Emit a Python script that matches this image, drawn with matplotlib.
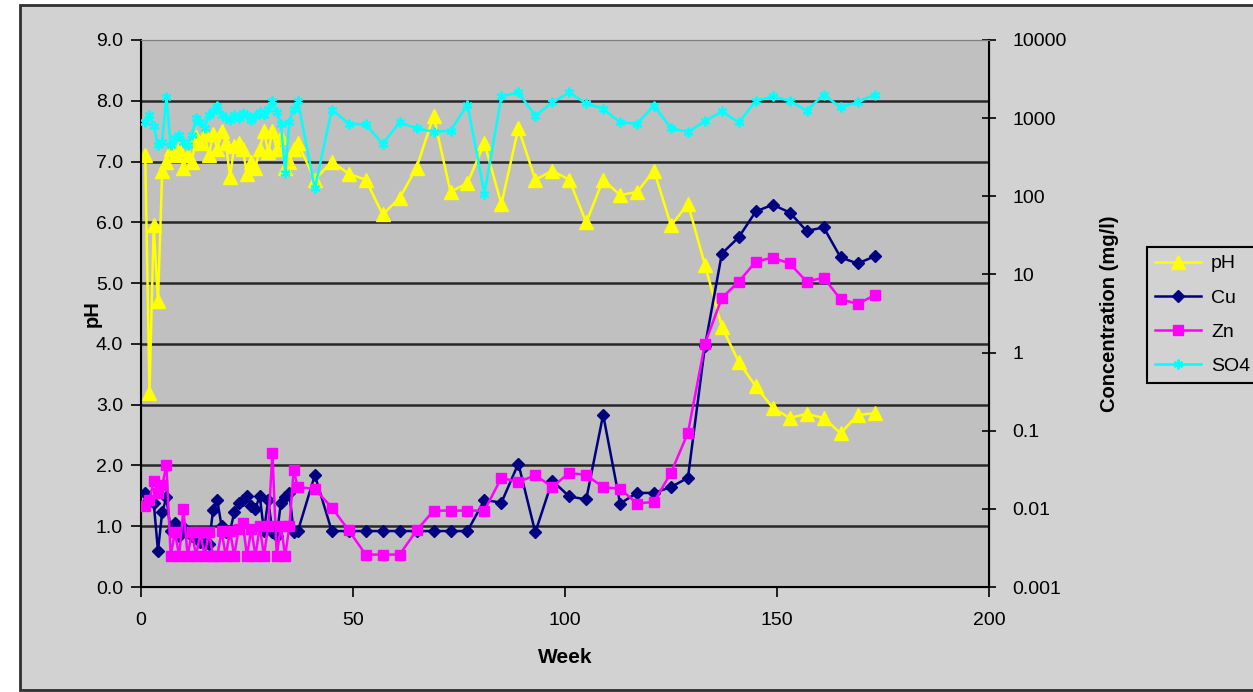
import matplotlib
matplotlib.use("Agg")
import matplotlib.pyplot as plt
from matplotlib.patches import Rectangle
from matplotlib.ticker import FixedLocator, FixedFormatter, NullLocator

plt.rcParams['font.family'] = ['Liberation Sans', 'DejaVu Sans']

# ---------------- data ----------------
weeks_early = list(range(1, 38))
weeks_late = list(range(41, 174, 4))
weeks = weeks_early + weeks_late

ph_early = [7.1, 3.2, 5.95, 4.7, 6.85, 7.0, 7.2, 7.1, 7.2, 6.9,
            7.1, 7.0, 7.4, 7.3, 7.45, 7.1, 7.45, 7.2, 7.5, 7.3,
            6.75, 7.25, 7.3, 7.2, 6.8, 7.0, 6.9, 7.2, 7.5, 7.15,
            7.5, 7.2, 7.4, 6.9, 7.0, 7.2, 7.3]
ph_late = [6.7, 7.0, 6.8, 6.7, 6.13, 6.4, 6.9, 7.75, 6.5, 6.65,
           7.3, 6.3, 7.55, 6.7, 6.85, 6.7, 6.0, 6.7, 6.45, 6.5,
           6.85, 5.95, 6.3, 5.3, 4.28, 3.7, 3.3, 2.95, 2.78, 2.85,
           2.78, 2.53, 2.83, 2.86]

cu_early = [0.016, 0.013, 0.012, 0.0029, 0.009, 0.014, 0.0052, 0.0065, 0.0045, 0.0058,
            0.005, 0.0045, 0.0042, 0.0038, 0.0036, 0.0035, 0.0096, 0.0128, 0.006, 0.005,
            0.0052, 0.009, 0.012, 0.013, 0.0147, 0.011, 0.01, 0.0147, 0.0052, 0.013,
            0.005, 0.0045, 0.012, 0.014, 0.016, 0.005, 0.0052]
cu_late = [0.027, 0.0052, 0.0052, 0.0052, 0.0052, 0.0052, 0.0052, 0.0052, 0.0052, 0.0052,
           0.013, 0.012, 0.038, 0.005, 0.023, 0.0144, 0.0132, 0.16, 0.0117, 0.016,
           0.016, 0.019, 0.025, 1.2, 18.5, 30, 64, 78, 62, 36,
           40, 16.5, 13.8, 17]

zn_early = [0.011, 0.013, 0.023, 0.016, 0.020, 0.036, 0.0025, 0.005, 0.0025, 0.010,
            0.0025, 0.005, 0.0025, 0.005, 0.0025, 0.005, 0.0025, 0.0025, 0.0052, 0.0025,
            0.0052, 0.0025, 0.0055, 0.0065, 0.0025, 0.0055, 0.0025, 0.006, 0.0025, 0.006,
            0.052, 0.0025, 0.006, 0.0025, 0.006, 0.031, 0.019]
zn_late = [0.018, 0.0104, 0.0053, 0.0026, 0.0026, 0.0026, 0.0053, 0.0095, 0.0095, 0.0095,
           0.0095, 0.025, 0.022, 0.027, 0.019, 0.029, 0.027, 0.019, 0.018, 0.0117,
           0.0123, 0.029, 0.094, 1.3, 5.0, 8.1, 14.6, 16.4, 13.8, 8.1,
           9.1, 4.8, 4.2, 5.4]

so4_early = [900, 1100, 800, 450, 500, 1850, 450, 550, 600, 500,
             450, 600, 1000, 900, 750, 1100, 1250, 1450, 1100, 1000,
             950, 1100, 1000, 1150, 1100, 950, 1050, 1200, 1100, 1300,
             1650, 1200, 850, 200, 900, 1300, 1650]
so4_late = [126, 1290, 850, 830, 470, 880, 740, 670, 690, 1490,
            108, 1900, 2130, 1070, 1590, 2130, 1540, 1320, 880, 850,
            1450, 740, 670, 910, 1220, 880, 1660, 1900, 1660, 1250,
            2000, 1370, 1600, 2000]

ph = ph_early + ph_late
cu = cu_early + cu_late
zn = zn_early + zn_late
so4 = so4_early + so4_late

ph_ticks = [0, 1, 2, 3, 4, 5, 6, 7, 8, 9]
conc_ticks = [0.001, 0.01, 0.1, 1, 10, 100, 1000, 10000]
conc_labels = ['0.001', '0.01', '0.1', '1', '10', '100', '1000', '10000']
week_ticks = [0, 50, 100, 150, 200]

# ---------------- figure ----------------
W, H = 1253, 692
fig = plt.figure(figsize=(W / 100, H / 100), dpi=100)
fig.patch.set_facecolor('white')
# chart area (drawn behind axes)
bg = Rectangle((20 / W, 1 - 690 / H), 1.2, (690 - 5) / H,
               transform=fig.transFigure, facecolor='#D2D2D2',
               edgecolor='#303030', linewidth=2, zorder=-10)
fig.add_artist(bg)

ax = fig.add_axes([141 / W, 1 - 587 / H, (989 - 141) / W, (587 - 40) / H])
ax.set_facecolor('#C0C0C0')
ax.set_xlim(0, 200)
ax.set_ylim(0, 9)
ax.set_yticks(ph_ticks)
ax.set_yticklabels([f'{v:.1f}' for v in ph_ticks])
ax.set_xticks(week_ticks)
for y in range(1, 9):
    ax.axhline(y, color='#282828', lw=1.8, zorder=0.5)
ax.tick_params(axis='both', direction='out', length=7, width=1.2,
               labelsize=14, color='black')
ax.tick_params(axis='y', pad=6)
ax.tick_params(axis='x', pad=11)
ax.set_xlabel('Week', fontsize=15, fontweight='bold', labelpad=14)
ax.set_ylabel('pH', fontsize=14.5, fontweight='bold', labelpad=-4)
for s in ['left', 'bottom']:
    ax.spines[s].set_color('black')
    ax.spines[s].set_linewidth(1.5)
ax.spines['top'].set_color('#808080')
ax.spines['right'].set_color('black')

l_ph, = ax.plot(weeks, ph, color='#FFFF00', lw=1.8, marker='^', ms=9.5,
                mec='#FFFF00', mfc='#FFFF00', label='pH', zorder=3)

ax2 = ax.twinx()
ax2.set_yscale('log')
ax2.set_ylim(0.001, 10000)
ax2.yaxis.set_major_locator(FixedLocator(conc_ticks))
ax2.yaxis.set_major_formatter(FixedFormatter(conc_labels))
ax2.yaxis.set_minor_locator(NullLocator())
ax2.tick_params(axis='y', direction='inout', length=10, width=1.2,
                labelsize=14, pad=12)
ax2.set_ylabel('Concentration (mg/l)', fontsize=14.5, fontweight='bold', labelpad=24)
ax2.spines['right'].set_linewidth(1.5)
ax2.spines['top'].set_color('#808080')

l_cu, = ax2.plot(weeks, cu, color='#000080', lw=1.8, marker='D', ms=6.5,
                 label='Cu', zorder=3)
l_zn, = ax2.plot(weeks, zn, color='#FF00FF', lw=1.8, marker='s', ms=7.5,
                 label='Zn', zorder=4)
l_so4, = ax2.plot(weeks, so4, color='#00FFFF', lw=1.8, marker=(6, 2, 0), ms=7,
                  mew=1.5, label='SO4', zorder=5)

leg = fig.legend(handles=[l_ph, l_cu, l_zn, l_so4], loc='upper left',
                 bbox_to_anchor=(1147 / W, 1 - 247 / H), fontsize=14,
                 frameon=True, fancybox=False, edgecolor='black',
                 facecolor='#D2D2D2', framealpha=1, handlelength=2.4,
                 labelspacing=0.85, borderpad=0.4, handletextpad=0.5,
                 borderaxespad=0)
leg.get_frame().set_linewidth(1.5)

fig.savefig('out.png', dpi=100, facecolor=fig.get_facecolor())
